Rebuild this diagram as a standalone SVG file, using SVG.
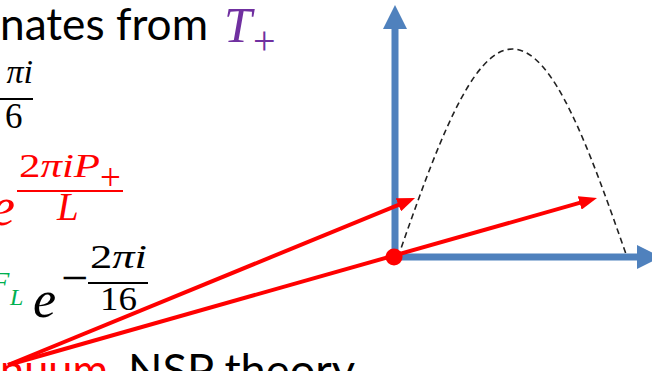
<svg xmlns="http://www.w3.org/2000/svg" width="652" height="371" viewBox="0 0 652 371">
  <style>
    .txt { font-family: Lato, "Open Sans", "Liberation Sans", sans-serif; }
    .m { font-family: "Liberation Serif", "DejaVu Serif", serif; }
    .mi { font-family: "Liberation Serif", "DejaVu Serif", serif; font-style: italic; }
    .axis { stroke: #4F81BD; stroke-width: 7; fill: none; }
    .vec { stroke: #FF0000; stroke-width: 4; fill: none; }
    .bar { stroke-width: 1.8; }
  </style>
  <defs>
    <marker id="blueHead" viewBox="0 0 24 24" refX="9" refY="12" markerWidth="24" markerHeight="24" markerUnits="userSpaceOnUse" orient="auto">
      <path d="M0,0 L24,12 L0,24 Z" fill="#4F81BD"/>
    </marker>
    <marker id="redHead" viewBox="0 0 18 14" refX="8" refY="7" markerWidth="18" markerHeight="14" markerUnits="userSpaceOnUse" orient="auto">
      <path d="M0,0 L18,7 L0,14 Z" fill="#FF0000"/>
    </marker>
  </defs>

  <g id="text-line1">
    <text class="txt" x="0" y="40" font-size="44" fill="#000" textLength="208" lengthAdjust="spacingAndGlyphs">nates from</text>
    <text class="mi" x="224" y="42" font-size="50" fill="#7030A0">T</text>
    <text class="m" x="253" y="54" font-size="40" fill="#7030A0">+</text>
  </g>

  <g id="text-line2">
    <text class="mi" x="33" y="83" font-size="34" text-anchor="end" fill="#000">πi</text>
    <line class="bar" x1="0" y1="99" x2="33" y2="99" stroke="#000"/>
    <text class="m" x="5" y="128" font-size="35" fill="#000">6</text>
  </g>

  <g id="text-line3" fill="#FF0000">
    <text class="mi" x="-9" y="225" font-size="54">e</text>
    <text class="mi" x="19" y="177" font-size="34" textLength="81" lengthAdjust="spacingAndGlyphs"><tspan font-style="normal">2</tspan>πiP</text>
    <text class="m" x="100" y="190" font-size="37">+</text>
    <line class="bar" x1="17" y1="191" x2="123" y2="191" stroke="#FF0000"/>
    <text class="mi" x="57" y="220" font-size="39">L</text>
  </g>

  <g id="text-line4">
    <text class="mi" x="-9" y="292" font-size="30" fill="#00B050">F</text>
    <text class="mi" x="10" y="305" font-size="24" fill="#00B050">L</text>
    <text class="mi" x="33" y="317" font-size="52" fill="#000">e</text>
    <text class="m" x="61" y="294" font-size="48" fill="#000">−</text>
    <text class="mi" x="90" y="268" font-size="34" fill="#000" textLength="57" lengthAdjust="spacingAndGlyphs"><tspan font-style="normal">2</tspan>πi</text>
    <line class="bar" x1="88" y1="283" x2="148" y2="283" stroke="#000"/>
    <text class="m" x="100" y="310" font-size="34" fill="#000" textLength="37" lengthAdjust="spacingAndGlyphs">16</text>
  </g>

  <g id="text-line5">
    <text class="txt" x="0" y="386" font-size="44" fill="#FF0000" textLength="108" lengthAdjust="spacingAndGlyphs">nuum</text>
    <text class="txt" x="128" y="386" font-size="44" fill="#000" textLength="227" lengthAdjust="spacingAndGlyphs">NSP theory</text>
  </g>

  <g id="plot">
    <path id="curve" d="M398,257 C435.3,150.4 471.1,49 512.5,49 C553.9,49 589.7,150.4 627,257" fill="none" stroke="#222" stroke-width="1.6" stroke-dasharray="6 4"/>
  </g>

  <g id="connectors">
    <line id="y-axis" class="axis" x1="395" y1="261" x2="395" y2="20" marker-end="url(#blueHead)"/>
    <line id="x-axis" class="axis" x1="391" y1="257" x2="646" y2="257" marker-end="url(#blueHead)"/>
    <line id="vec1" class="vec" x1="8" y1="365" x2="405.8" y2="201.8" marker-end="url(#redHead)"/>
    <line id="vec2" class="vec" x1="8" y1="365" x2="587.4" y2="200.7" marker-end="url(#redHead)"/>
  </g>

  <g id="origin">
    <circle cx="394" cy="257" r="8.5" fill="#FF0000"/>
  </g>
</svg>
